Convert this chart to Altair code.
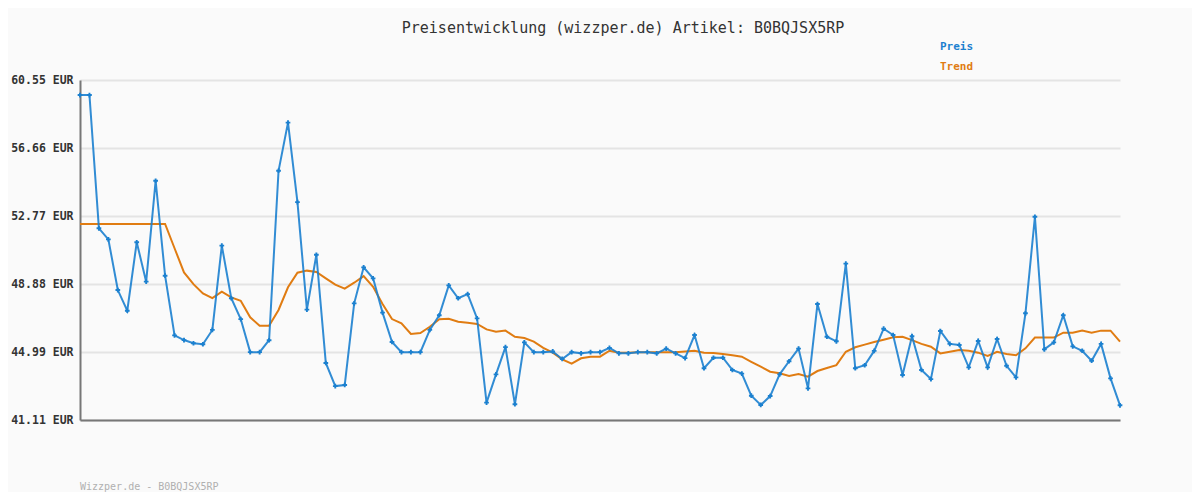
import altair as alt
import pandas as pd

price = [59.69, 59.69, 52.07, 51.44, 48.54, 47.36, 51.27, 49.02, 54.79, 49.36,
         45.95, 45.68, 45.50, 45.44, 46.26, 51.08, 48.07, 46.88, 44.99, 44.99,
         45.67, 55.36, 58.11, 53.57, 47.42, 50.56, 44.37, 43.05, 43.11, 47.78,
         49.84, 49.21, 47.25, 45.57, 44.99, 44.99, 44.99, 46.26, 47.10, 48.81,
         48.07, 48.31, 46.92, 42.10, 43.72, 45.28, 42.01, 45.55, 44.99, 44.99,
         45.03, 44.60, 44.99, 44.92, 44.99, 44.99, 45.23, 44.92, 44.92, 44.99,
         44.99, 44.92, 45.19, 44.92, 44.65, 45.97, 44.07, 44.67, 44.67, 43.97,
         43.76, 42.50, 41.97, 42.48, 43.72, 44.47, 45.19, 42.92, 47.74, 45.87,
         45.61, 50.05, 44.07, 44.24, 45.06, 46.33, 45.97, 43.68, 45.90, 43.97,
         43.45, 46.20, 45.46, 45.40, 44.12, 45.63, 44.12, 45.74, 44.21, 43.55,
         47.21, 52.73, 45.15, 45.55, 47.10, 45.32, 45.07, 44.50, 45.46, 43.49,
         41.95]

trend = [52.32, 52.32, 52.32, 52.32, 52.32, 52.32, 52.32, 52.32, 52.32, 52.32,
         50.93, 49.55, 48.88, 48.35, 48.08, 48.45, 48.12, 47.93, 46.98, 46.50,
         46.50, 47.40, 48.70, 49.53, 49.65, 49.57, 49.21, 48.85, 48.62, 48.96,
         49.34, 48.73, 47.74, 46.88, 46.64, 46.03, 46.08, 46.44, 46.87, 46.90,
         46.73, 46.67, 46.60, 46.29, 46.16, 46.22, 45.87, 45.80, 45.59, 45.24,
         44.96, 44.58, 44.33, 44.64, 44.73, 44.73, 45.07, 44.96, 44.96, 44.98,
         44.99, 44.99, 44.99, 44.99, 45.03, 45.07, 44.96, 44.94, 44.88, 44.81,
         44.73, 44.44, 44.16, 43.87, 43.78, 43.63, 43.74, 43.59, 43.91, 44.08,
         44.25, 45.01, 45.27, 45.42, 45.57, 45.70, 45.84, 45.87, 45.68, 45.46,
         45.30, 44.92, 45.01, 45.11, 45.07, 44.96, 44.77, 45.01, 44.88, 44.81,
         45.21, 45.82, 45.82, 45.82, 46.10, 46.10, 46.22, 46.10, 46.22, 46.22,
         45.59]

y_ticks = [41.11, 44.99, 48.88, 52.77, 56.66, 60.55]

title_text = "Preisentwicklung (wizzper.de) Artikel: B0BQJSX5RP"
legend_labels = ["Preis", "Trend"]
footer_text = "Wizzper.de - B0BQJSX5RP"

BLUE = "#1b80cf"
ORANGE = "#e07c12"

df = pd.DataFrame({"i": list(range(len(price))), "price": price, "trend": trend})

W, H = 1040, 340
MONO = "DejaVu Sans Mono"

x_enc = alt.X("i:Q", scale=alt.Scale(domain=[0, len(price) - 1], nice=False, zero=False),
              axis=alt.Axis(labels=False, ticks=False, grid=False, title=None,
                            domainColor="#777777", domainWidth=2))
y_scale = alt.Scale(domain=[y_ticks[0], y_ticks[-1]], nice=False, zero=False)
y_axis = alt.Axis(values=y_ticks, labelExpr="format(datum.value, '.2f') + ' EUR'",
                  ticks=False, title=None, grid=True, gridColor="#e4e4e4", gridWidth=2,
                  domainColor="#777777", domainWidth=2, labelFont=MONO, labelFontWeight="bold",
                  labelFontSize=11.5, labelColor="#333333", labelPadding=7)

base = alt.Chart(df)

trend_line = base.mark_line(color=ORANGE, strokeWidth=2).encode(
    x=x_enc, y=alt.Y("trend:Q", scale=y_scale, axis=y_axis))
price_line = base.mark_line(color=BLUE, strokeWidth=2, opacity=0.9).encode(
    x="i:Q", y=alt.Y("price:Q", scale=y_scale))
price_pts = base.mark_point(shape="cross", filled=True, size=22, color=BLUE, opacity=1).encode(
    x="i:Q", y=alt.Y("price:Q", scale=y_scale))

title = alt.Chart(pd.DataFrame({"t": [title_text]})).mark_text(
    font=MONO, fontSize=15, color="#333333", align="center", baseline="middle"
).encode(text="t:N", x=alt.value(543), y=alt.value(-52))

leg_df = pd.DataFrame({"t": legend_labels, "yy": [-33, -13], "c": [BLUE, ORANGE]})
legend = alt.Chart(leg_df).mark_text(
    font=MONO, fontSize=11, fontWeight="bold", align="left", baseline="middle"
).encode(text="t:N", x=alt.value(860), y=alt.Y("yy:Q", scale=None),
         color=alt.Color("c:N", scale=None))

footer = alt.Chart(pd.DataFrame({"t": [footer_text]})).mark_text(
    font=MONO, fontSize=10, color="#b0b0b0", align="left", baseline="middle"
).encode(text="t:N", x=alt.value(0), y=alt.value(407))

chart = alt.layer(trend_line, price_line, price_pts, title, legend, footer).properties(
    width=W, height=H,
    autosize=alt.AutoSizeParams(type="none"),
    padding={"left": 72, "top": 72, "right": 72, "bottom": 72},
    background="#fafafa",
).configure_view(stroke=None)

chart.save("out.html", embed_options={"renderer": "svg", "actions": False})
